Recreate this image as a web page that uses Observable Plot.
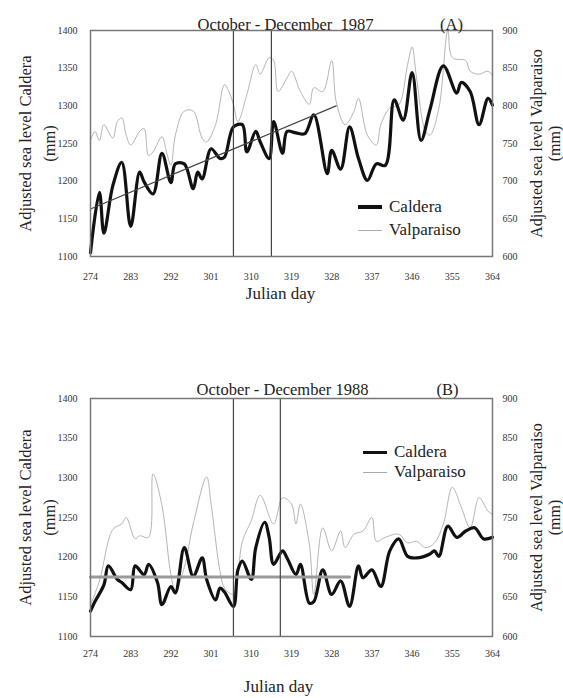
<!DOCTYPE html>
<html><head><meta charset="utf-8">
<script src="https://cdn.jsdelivr.net/npm/d3@7"></script>
<script src="https://cdn.jsdelivr.net/npm/@observablehq/plot@0.6"></script>
<style>
body{margin:0;background:#fff;font-family:"Liberation Serif","DejaVu Serif",serif;}
#wrap{position:relative;width:563px;height:698px;overflow:hidden;}
.panel{position:absolute;left:0;}
.lg{position:absolute;height:22px;display:flex;align-items:center;font-size:17px;color:#222;white-space:nowrap;}
.lg span{display:inline-block;width:24px;margin-right:7px;}
</style></head><body>
<div id="wrap">
  <div id="a" class="panel" style="top:0"></div>
  <div id="b" class="panel" style="top:370px"></div>
  <div class="lg" style="left:358px;top:196px"><span style="height:4px;background:#111"></span>Caldera</div>
  <div class="lg" style="left:358px;top:219px"><span style="height:1px;background:#aaa"></span>Valparaiso</div>
  <div class="lg" style="left:363px;top:441px"><span style="height:3px;background:#111"></span>Caldera</div>
  <div class="lg" style="left:363px;top:461px"><span style="height:1px;background:#aaa"></span>Valparaiso</div>
</div>
<script>
// ---- Data ----
const xTicks = [274, 283, 292, 301, 310, 319, 328, 337, 346, 355, 364];
const calderaTicks = [1100, 1150, 1200, 1250, 1300, 1350, 1400];
const valparaisoTicks = [600, 650, 700, 750, 800, 850, 900];
const valOffset = 500; // right axis 600–900 drawn against left 1100–1400

// 1987 (A)
const cal87Days = [274,276,277,279,281,283,285,286,288,290,292,293,295,297,298,299,301,303,304,306,308,309,311,312,314,315,317,318,320,322,324,327,328,330,332,334,336,338,340,342,344,346,348,350,353,356,357,359,361,363,364];
const cal87 =     [1105,1185,1131,1194,1225,1140,1212,1199,1183,1237,1198,1223,1223,1190,1212,1203,1243,1230,1232,1272,1275,1239,1266,1252,1230,1279,1237,1266,1264,1263,1288,1210,1241,1216,1272,1230,1201,1223,1221,1308,1281,1344,1254,1295,1353,1317,1331,1319,1275,1310,1301];
const val87Days = [274,275,276,277,279,280,281,282,283,285,286,287,288,290,291,292,293,295,297,299,300,302,304,305,306,307,309,311,312,314,315,316,318,319,321,323,324,326,328,329,331,333,334,336,338,339,341,343,345,346,347,349,350,352,354,355,358,359,361,363,364];
const val87 =     [754,766,754,775,757,779,784,761,748,766,770,734,739,759,739,721,761,793,793,757,752,775,828,819,802,779,815,855,842,864,860,819,837,846,819,802,824,819,860,806,775,793,810,761,748,775,797,801,855,878,837,766,761,797,900,864,860,846,842,846,840];
const trend87Days = [274, 329];
const trend87 = [1163, 1300];
const events87 = [306, 314.5];

// 1988 (B)
const cal88Days = [274,275,277,278,280,281,283,284,286,287,289,290,292,293,295,297,299,300,302,303,304,306,307,308,310,311,313,314,315,317,318,320,321,323,324,326,328,330,332,334,335,337,339,341,343,345,347,350,351,352,354,356,358,360,362,364];
const cal88 =     [1132,1144,1165,1189,1172,1168,1159,1189,1178,1191,1168,1140,1163,1155,1212,1176,1199,1172,1146,1161,1156,1138,1184,1195,1172,1212,1244,1225,1191,1208,1199,1178,1191,1142,1144,1184,1153,1170,1138,1189,1174,1184,1163,1208,1223,1201,1199,1204,1208,1201,1239,1225,1233,1237,1223,1225];
const val88Days = [274,276,279,281,282,284,285,287,288,290,292,293,295,297,300,301,303,304,306,308,310,312,315,317,319,320,321,323,324,326,328,330,331,333,335,337,338,340,343,345,347,349,351,353,355,357,359,361,363,364];
const val88 =     [640,670,735,742,750,723,727,725,805,765,678,657,687,742,801,767,682,661,653,720,746,778,742,775,767,742,767,716,653,737,708,733,712,729,733,750,720,725,729,718,720,712,718,742,788,763,737,775,758,754];
const mean88Days = [274, 332];
const mean88 = [1175, 1175];
const events88 = [306, 316.5];

const rows = (days, vals, off = 0) => days.map((d, i) => ({day: d, v: vals[i] + off}));

function panel(o) {
  return Plot.plot({
    width: 563, height: o.height,
    marginLeft: 90, marginRight: 71, marginTop: o.mt, marginBottom: o.mb,
    style: {fontFamily: "Liberation Serif, serif", fontSize: "10px", color: "#333", background: "white"},
    x: {domain: [274, 364]},
    y: {domain: [1100, 1400]},
    marks: [
      Plot.line(rows(o.vDays, o.v, valOffset), {x: "day", y: "v", stroke: "#b4b4b4", strokeWidth: 1, curve: "catmull-rom"}),
      Plot.line(rows(o.cDays, o.c), {x: "day", y: "v", stroke: "#111", strokeWidth: 3.2, strokeLinejoin: "round", curve: "catmull-rom"}),
      Plot.line(rows(o.refDays, o.ref), {x: "day", y: "v", stroke: o.refStroke, strokeWidth: o.refWidth}),
      Plot.ruleX(o.events, {stroke: "#444", strokeWidth: 1.2}),
      Plot.frame({stroke: "#777", strokeWidth: 1.5}),
      Plot.axisX({ticks: xTicks, tickSize: 0, tickPadding: o.xPad, label: null, fontSize: 10, tickFormat: d => String(d)}),
      Plot.axisY({ticks: calderaTicks, anchor: "left", tickSize: 0, tickPadding: 13, label: null, fontSize: 10, tickFormat: d => String(d)}),
      Plot.axisY({ticks: valparaisoTicks.map(t => t + valOffset), anchor: "right", tickSize: 0, tickPadding: 10,
                  tickFormat: d => String(d - valOffset), label: null, fontSize: 10}),
      Plot.text([o.title], {frameAnchor: "top", dx: o.titleDx, dy: o.titleDy, fontSize: 16.5, fill: "#222"}),
      Plot.text([o.tag], {frameAnchor: "top-right", dx: o.tagDx, dy: o.titleDy, fontSize: 16.5, textAnchor: "middle", fill: "#222"}),
      Plot.text(["Julian day"], {frameAnchor: "bottom", dx: o.jdDx, dy: o.jdDy, fontSize: 17, fill: "#222"}),
      Plot.text(["Adjusted sea level Caldera\n(mm)"], {frameAnchor: "left", textAnchor: "middle", rotate: -90, dx: -55, fontSize: 16.5, lineHeight: 1.45, fill: "#222"}),
      Plot.text(["Adjusted sea level Valparaiso\n(mm)"], {frameAnchor: "right", textAnchor: "middle", rotate: -90, dx: 53, fontSize: 16, lineHeight: 1.1, fill: "#222"})
    ]
  });
}

document.getElementById("a").append(panel({
  height: 310, mt: 30, mb: 54, xPad: 16,
  cDays: cal87Days, c: cal87, vDays: val87Days, v: val87,
  refDays: trend87Days, ref: trend87, refStroke: "#444", refWidth: 1.2,
  events: events87,
  title: "October - December  1987", tag: "(A)", titleDx: -6, titleDy: -12, tagDx: -41,
  jdDx: -11, jdDy: 42
}));

document.getElementById("b").append(panel({
  height: 328, mt: 28, mb: 62, xPad: 13,
  cDays: cal88Days, c: cal88, vDays: val88Days, v: val88,
  refDays: mean88Days, ref: mean88, refStroke: "#9a9a9a", refWidth: 3,
  events: events88,
  title: "October - December 1988", tag: "(B)", titleDx: -9, titleDy: -15, tagDx: -45,
  jdDx: -13, jdDy: 55
}));
</script>
</body></html>
